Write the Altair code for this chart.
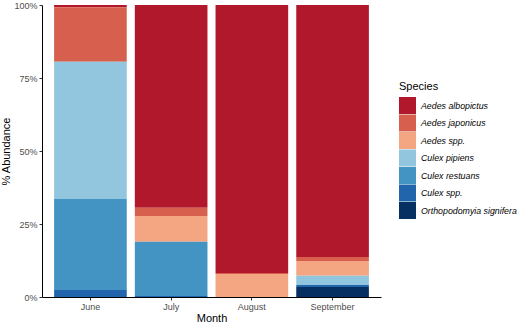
import altair as alt
import pandas as pd

months = ["June", "July", "August", "September"]
species = ["Aedes albopictus", "Aedes japonicus", "Aedes spp.", "Culex pipiens",
           "Culex restuans", "Culex spp.", "Orthopodomyia signifera"]
colors = ["#b2182b", "#d6604d", "#f4a582", "#92c5de", "#4393c3", "#2166ac", "#053061"]

june = [0.8, 18.6, 0.0, 47.0, 31.2, 2.4, 0.0]
july = [69.4, 2.9, 8.8, 0.0, 18.6, 0.3, 0.0]
august = [91.8, 0.3, 7.9, 0.0, 0.0, 0.0, 0.0]
september = [86.3, 1.4, 5.0, 3.2, 0.0, 0.7, 3.4]

rows = []
for m, vals in zip(months, [june, july, august, september]):
    for i, (s, v) in enumerate(zip(species, vals)):
        if v > 0:
            rows.append({"month": m, "species": s, "value": v, "ord": len(species) - 1 - i})
df = pd.DataFrame(rows)

FONT = "Liberation Sans"

chart = alt.Chart(df).mark_bar().encode(
    x=alt.X("month:N", sort=months,
            scale=alt.Scale(paddingInner=0.1, paddingOuter=0.15),
            axis=alt.Axis(title="Month", labelAngle=0, labelPadding=2, titlePadding=1)),
    y=alt.Y("value:Q", stack="zero",
            scale=alt.Scale(domain=[0, 100], nice=False),
            axis=alt.Axis(values=[0, 25, 50, 75, 100], labelExpr="datum.value + '%'",
                          title="% Abundance", grid=False, labelPadding=2, titlePadding=2)),
    color=alt.Color("species:N", scale=alt.Scale(domain=species, range=colors),
                    legend=alt.Legend(title="Species", orient="none", legendX=357, legendY=76,
                                      titleFontSize=11, titleFontWeight="normal", titleColor="black",
                                      titleFont=FONT, titlePadding=5,
                                      labelFont=FONT, labelFontSize=8.8, labelFontStyle="italic",
                                      labelColor="black", labelOffset=5, labelLimit=220,
                                      symbolType="square", symbolSize=289, symbolStrokeWidth=0,
                                      symbolOpacity=1, rowPadding=0.5)),
    order=alt.Order("ord:Q", sort="ascending"),
).properties(
    width=339, height=292,
    autosize=alt.AutoSizeParams(type="none"),
    padding={"left": 42, "top": 5, "right": 139, "bottom": 26},
).configure_view(stroke=None).configure_axis(
    domainColor="black", domainWidth=1, tickColor="#333333", tickSize=3,
    labelColor="#4d4d4d", labelFontSize=9, labelFont=FONT,
    titleColor="black", titleFontSize=11, titleFont=FONT, titleFontWeight="normal",
)

chart.save("out.html", embed_options={"renderer": "svg", "actions": False})
